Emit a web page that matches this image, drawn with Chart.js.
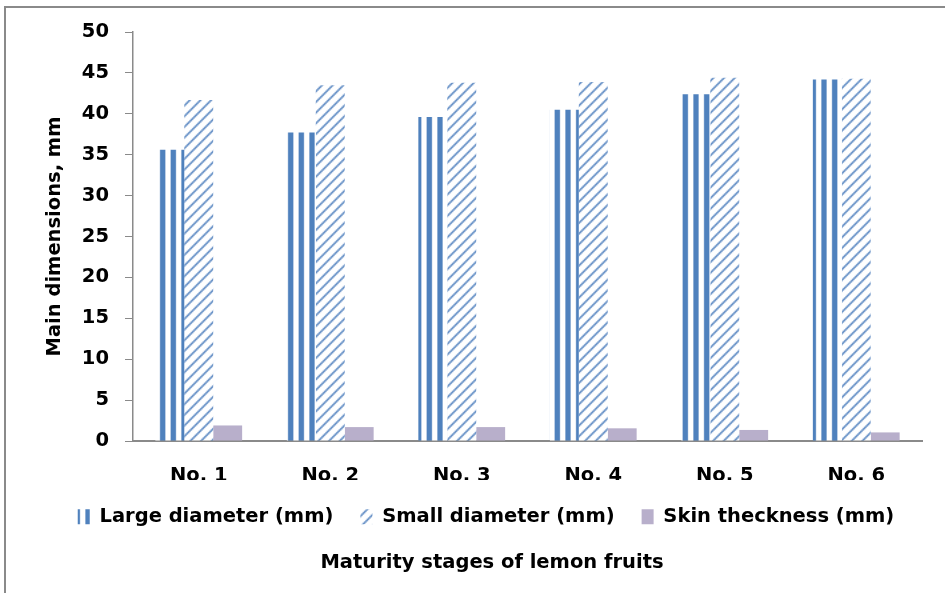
<!DOCTYPE html>
<html>
<head>
<meta charset="utf-8">
<script src="https://cdn.jsdelivr.net/npm/chart.js@4.4.1/dist/chart.umd.min.js"></script>
<style>
  html, body { margin: 0; padding: 0; background: #ffffff; }
  #wrap { width: 945px; height: 593px; position: relative; }
</style>
</head>
<body>
<div id="wrap"><canvas id="c" width="945" height="593"></canvas></div>
<script>
const categories = ['No. 1', 'No. 2', 'No. 3', 'No. 4', 'No. 5', 'No. 6'];
const largeDiameter = [35.6, 37.7, 39.6, 40.5, 42.4, 44.2];
const smallDiameter = [41.7, 43.5, 43.8, 43.9, 44.4, 44.3];
const skinThickness = [1.9, 1.7, 1.7, 1.55, 1.35, 1.05];
const seriesNames = ['Large diameter (mm)', 'Small diameter (mm)', 'Skin theckness (mm)'];
const yTitle = 'Main dimensions, mm';
const xTitle = 'Maturity stages of lemon fruits';

const FONT = '"DejaVu Sans", sans-serif';
const FS = 19.5;
const BLUE = '#4F81BD';
const HATCH = '#6A93C8';

function makePattern(kind) {
  const t = document.createElement('canvas');
  t.width = 8; t.height = 8;
  const g = t.getContext('2d');
  g.fillStyle = '#ffffff';
  g.fillRect(0, 0, 8, 8);
  if (kind === 'vert') {
    g.fillStyle = BLUE;
    g.fillRect(0, 0, 4, 8);
  } else {
    g.fillStyle = HATCH;
    for (let x = 0; x < 8; x++) {
      for (let y = 0; y < 8; y++) {
        if (((x + y) % 8) < 2) g.fillRect(x, y, 1, 1);
      }
    }
  }
  const ctx = document.getElementById('c').getContext('2d');
  const p = ctx.createPattern(t, 'repeat');
  if (p.setTransform) p.setTransform(new DOMMatrix().scale(4 / 3));
  return p;
}

const framePlugin = {
  id: 'outerBorder',
  beforeDraw(chart) {
    const ctx = chart.ctx;
    ctx.save();
    ctx.strokeStyle = '#8a8a8a';
    ctx.lineWidth = 2;
    ctx.beginPath();
    ctx.moveTo(5, 600);
    ctx.lineTo(5, 7);
    ctx.lineTo(950, 7);
    ctx.stroke();
    ctx.restore();
  },
  afterLayout(chart) {
    const lg = chart.legend;
    if (lg) { const w = lg.right - lg.left; lg.left = 486 - w / 2; lg.right = 486 + w / 2; }
    const tb = chart.titleBlock;
    if (tb) { const w = tb.right - tb.left; tb.left = 492 - w / 2; tb.right = 492 + w / 2; }
  }
};

new Chart(document.getElementById('c'), {
  type: 'bar',
  data: {
    labels: categories,
    datasets: [
      { label: seriesNames[0], data: largeDiameter, backgroundColor: makePattern('vert'), borderWidth: 0 },
      { label: seriesNames[1], data: smallDiameter, backgroundColor: makePattern('diag'), borderWidth: 0 },
      { label: seriesNames[2], data: skinThickness, backgroundColor: '#B8AFCB', borderWidth: 0 }
    ]
  },
  options: {
    responsive: false,
    animation: false,
    devicePixelRatio: 1,
    layout: { padding: { left: 14, right: 23, top: 32, bottom: 18.3 } },
    datasets: { bar: { barPercentage: 1.0, categoryPercentage: 0.66 } },
    scales: {
      x: {
        grid: { display: true, drawOnChartArea: false, drawTicks: false },
        border: { display: true, color: '#8a8a8a', width: 2 },
        ticks: { color: '#000', font: { family: FONT, size: FS, weight: 'bold' }, padding: 23.5 },
        afterFit(scale) { scale.height = 39; }
      },
      y: {
        min: 0, max: 50,
        ticks: { stepSize: 5, color: '#000', font: { family: FONT, size: FS, weight: 'bold' }, padding: 16 },
        grid: { display: true, drawOnChartArea: false, drawTicks: true, tickLength: 8, color: '#8a8a8a' },
        border: { display: true, color: '#8a8a8a', width: 1.5 },
        title: { display: true, text: yTitle, color: '#000', font: { family: FONT, size: FS, weight: 'bold' }, padding: { top: 29.3, bottom: 10 } },
        afterFit(scale) { scale.width = 119; }
      }
    },
    plugins: {
      legend: {
        position: 'bottom',
        labels: { color: '#000', font: { family: FONT, size: FS, weight: 'bold' }, boxWidth: 12, boxHeight: 15, padding: 27 }
      },
      title: {
        display: true, position: 'bottom', text: xTitle, color: '#000',
        font: { family: FONT, size: FS, weight: 'bold' }, padding: { top: 14.8, bottom: 0 }
      },
      tooltip: { enabled: false }
    }
  },
  plugins: [framePlugin]
});
</script>
</body>
</html>
